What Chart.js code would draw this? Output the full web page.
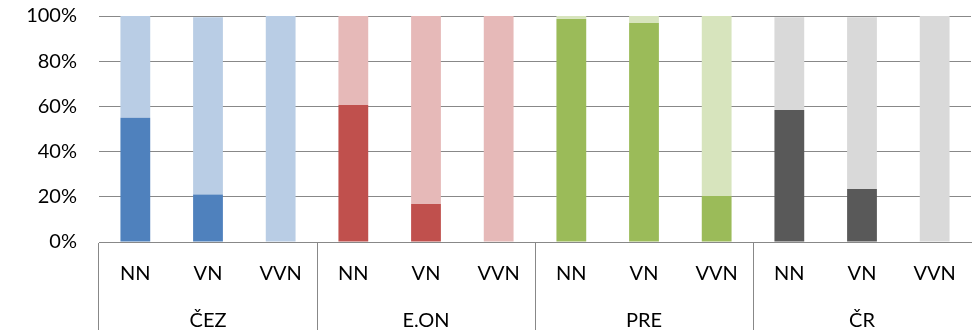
<!DOCTYPE html>
<html>
<head>
<meta charset="utf-8">
<script src="https://cdn.jsdelivr.net/npm/chart.js@4"></script>
<style>
  html, body { margin: 0; padding: 0; background: #fff; }
  #wrap { width: 977px; height: 330px; }
</style>
</head>
<body>
<div id="wrap"><canvas id="chart"></canvas></div>
<script>
// tick labels
var groups = ['ČEZ', 'E.ON', 'PRE', 'ČR'];
var levels = ['NN', 'VN', 'VVN'];
var yTicks = [0, 20, 40, 60, 80, 100];

// series values (%), one per bar
var share = [55, 21, 0, 60.6, 16.8, 0, 98.7, 96.9, 20.4, 58.4, 23.5, 0];
var rest = [45, 78.5, 100, 39.4, 83.2, 100, 1.3, 3.1, 79.6, 41.1, 76, 100];

// group colours: dark for the share, pale for the rest
var darkColors = ['#4f81bd', '#c0504d', '#9bbb59', '#595959'];
var paleColors = ['#b9cde5', '#e6b9b8', '#d7e4bd', '#d9d9d9'];

var gridColor = '#888888';
var fontFamily = 'Lato, "Liberation Sans", sans-serif';

// labels: level on first line, group name under the middle bar
var labels = [];
groups.forEach(function (g) {
    levels.forEach(function (lv, j) {
        labels.push(j === 1 ? [lv, g] : [lv]);
    });
});

function groupColor(list) {
    return function (ctx) {
        return list[Math.floor(ctx.dataIndex / levels.length)];
    };
}

new Chart(document.getElementById('chart'), {
    type: 'bar',
    data: {
        labels: labels,
        datasets: [
            { label: 'share', data: share, backgroundColor: groupColor(darkColors) },
            { label: 'rest', data: rest, backgroundColor: groupColor(paleColors) }
        ]
    },
    options: {
        responsive: true,
        maintainAspectRatio: false,
        animation: false,
        layout: { padding: { top: 16, right: 6, left: 0, bottom: 0 } },
        datasets: {
            bar: { categoryPercentage: 1, barPercentage: 0.41 }
        },
        plugins: {
            legend: { display: false },
            tooltip: { enabled: false }
        },
        scales: {
            x: {
                stacked: true,
                afterFit: function (scale) { scale.height = 88; },
                border: { display: true, color: gridColor, width: 1 },
                grid: {
                    offset: true,
                    drawOnChartArea: false,
                    drawTicks: true,
                    tickLength: 88,
                    color: function (ctx) {
                        return ctx.index % levels.length === 0 ? gridColor : 'rgba(0,0,0,0)';
                    }
                },
                ticks: {
                    color: '#000',
                    padding: -80,
                    maxRotation: 0,
                    autoSkip: false,
                    font: { family: fontFamily, size: 20, lineHeight: 2.35 }
                }
            },
            y: {
                stacked: true,
                min: 0,
                max: 100,
                afterFit: function (scale) { scale.width = 99; },
                afterBuildTicks: function (scale) {
                    scale.ticks = yTicks.map(function (v) { return { value: v }; });
                },
                border: { display: false },
                // invisible tick marks keep the labels clear of the plot
                grid: { color: gridColor, lineWidth: 1, drawTicks: true, tickLength: 22, tickColor: 'rgba(0,0,0,0)' },
                ticks: {
                    color: '#000',
                    padding: 0,
                    font: { family: fontFamily, size: 20 },
                    callback: function (v) { return v + '%'; }
                }
            }
        }
    }
});
</script>
</body>
</html>
